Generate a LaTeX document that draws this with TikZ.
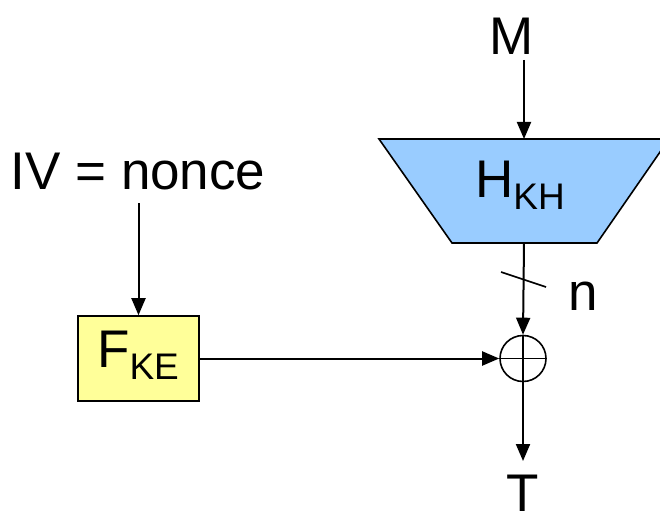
\documentclass[tikz,border=0pt]{standalone}
\usepackage{fontspec}
\setmainfont{Liberation Sans}
\usetikzlibrary{arrows.meta}
\definecolor{hashblue}{HTML}{99CCFF}
\definecolor{boxyellow}{HTML}{FFFF99}
\begin{document}
\begin{tikzpicture}[x=1pt,y=-1pt,
  line width=2pt,
  arr/.style={-{Triangle[length=17pt,width=14pt]}},
  big/.style={font=\fontsize{53}{60}\selectfont, inner sep=0pt}]
\useasboundingbox (0,0) rectangle (660,521);
\clip (0,0) rectangle (660,521);
% labels
\node[big] (M) at (512,36) {M};
\node[big] (IV) at (138,172) {IV = nonce};
\node[big] (T) at (523,493) {T};
\node[big] (n) at (583,296) {n};
% hash trapezoid
\coordinate (tl) at (379,139);
\coordinate (tr) at (669,139);
\coordinate (br) at (597,243);
\coordinate (bl) at (452,243);
\coordinate (htop) at (524,139);
\coordinate (hbot) at (524,243);
\filldraw[fill=hashblue, line width=1.6pt] (tl) -- (tr) -- (br) -- (bl) -- cycle;
\node[big] (H) at (520,185) {H\raisebox{-0.42ex}{\fontsize{37}{40}\selectfont KH}};
% F box
\node[draw, fill=boxyellow, line width=1.6pt, minimum width=121pt, minimum height=85pt, inner sep=0pt] (F) at (138.5,358.5) {};
\node[big] (FL) at (138,355) {F\raisebox{-0.42ex}{\fontsize{37}{40}\selectfont KE}};
% xor
\node[draw, circle, minimum size=46pt, inner sep=0pt, line width=1.6pt] (X) at (523,358.5) {};
\draw[line width=1.6pt] (X.north) -- (X.south) (X.west) -- (X.east);
% connectors
\draw[arr] (524,60) -- (htop);
\draw[arr] (IV.south -| F.north) ++(0,12) -- (F.north);
\draw[arr] (hbot) -- (X.north);
\draw[arr] (F.east) -- (X.west);
\draw[arr] (X.south) -- (523,461);
% slash
\coordinate (s1) at (501,272);
\coordinate (s2) at (546,287);
\draw[line width=1.6pt] (s1) -- (s2);
\end{tikzpicture}
\end{document}
